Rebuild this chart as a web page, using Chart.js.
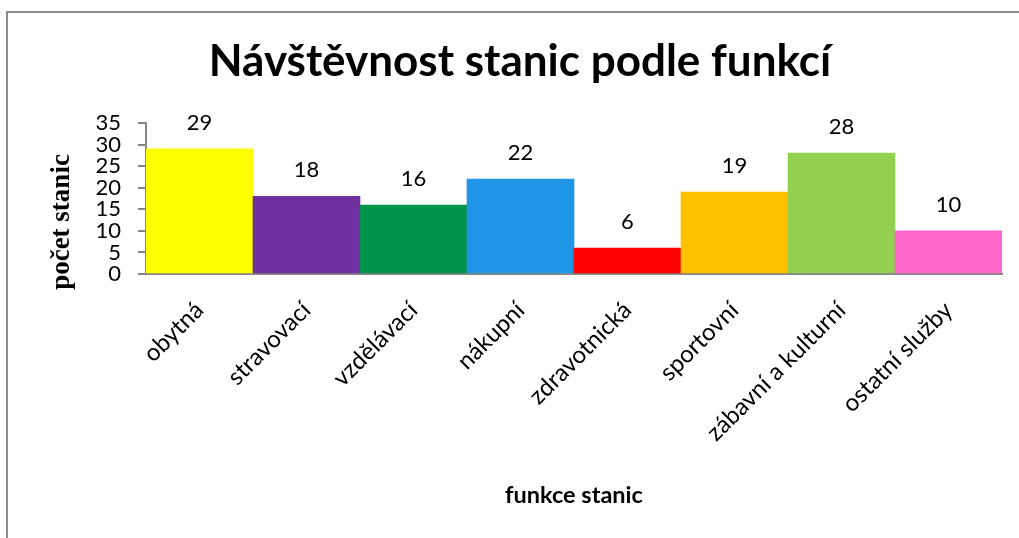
<!DOCTYPE html>
<html>
<head>
<meta charset="utf-8">
<script src="https://cdn.jsdelivr.net/npm/chart.js@4.4.1/dist/chart.umd.min.js"></script>
<style>
    html, body { margin: 0; padding: 0; background: #fff; overflow: hidden; }
    #chart { position: absolute; left: 0; top: 0; }
</style>
</head>
<body>
<canvas id="chart" width="1019" height="538"></canvas>
<script>
// data
const categories = ['obytná', 'stravovací', 'vzdělávací', 'nákupní', 'zdravotnická', 'sportovní', 'zábavní a kulturní', 'ostatní služby'];
const stationCounts = [29, 18, 16, 22, 6, 19, 28, 10];
const barColors = ['#ffff00', '#7030a0', '#00944a', '#1f96e6', '#ff0000', '#ffc000', '#92d050', '#ff66cc'];
const yMin = 0, yMax = 35, yStep = 5;

const chartTitle = 'Návštěvnost stanic podle funkcí';
const yTitle = 'počet stanic';
const xTitle = 'funkce stanic';

const FONT = 'Lato';
const axisGray = '#868686';

//outer frame (only left and top edges are in view) + chart title
const frameAndTitle = {
    id: 'frameAndTitle',
    beforeDraw(chart) {
        const ctx = chart.ctx;
        ctx.save();
        ctx.strokeStyle = '#8a8a8a';
        ctx.lineWidth = 2;
        ctx.beginPath();
        ctx.moveTo(7, chart.height);
        ctx.lineTo(7, 12);
        ctx.lineTo(chart.width, 12);
        ctx.stroke();

        ctx.font = 'bold 44px ' + FONT;
        ctx.fillStyle = '#000';
        ctx.textAlign = 'center';
        ctx.textBaseline = 'middle';
        ctx.fillText(chartTitle, 520, 62);
        ctx.restore();
    }
};

//value labels above each bar
const valueLabels = {
    id: 'valueLabels',
    afterDatasetsDraw(chart) {
        const ctx = chart.ctx;
        const meta = chart.getDatasetMeta(0);
        ctx.save();
        ctx.font = '22px ' + FONT;
        ctx.fillStyle = '#000';
        ctx.textAlign = 'center';
        ctx.textBaseline = 'middle';
        meta.data.forEach(function (bar, i) {
            ctx.fillText(String(stationCounts[i]), bar.x, bar.y - 26);
        });
        ctx.restore();
    }
};

//y title sits a bit lower than the axis middle in the original
const yAxisTitle = {
    id: 'yAxisTitle',
    afterDraw(chart) {
        const ctx = chart.ctx;
        ctx.save();
        ctx.translate(62, 222);
        ctx.rotate(-Math.PI / 2);
        ctx.font = 'bold 27px "Liberation Serif"';
        ctx.fillStyle = '#000';
        ctx.textAlign = 'center';
        ctx.textBaseline = 'middle';
        ctx.fillText(yTitle, 0, 0);
        ctx.restore();
    }
};

const chart = new Chart(document.getElementById('chart'), {
    type: 'bar',
    data: {
        labels: categories,
        datasets: [{
            data: stationCounts,
            backgroundColor: barColors,
            borderWidth: 0,
            categoryPercentage: 1,
            barPercentage: 1
        }]
    },
    options: {
        responsive: false,
        animation: false,
        devicePixelRatio: 1,
        layout: {
            padding: { left: 0, right: 17, top: 123, bottom: 0 }
        },
        plugins: {
            legend: { display: false },
            tooltip: { enabled: false },
            title: { display: false }
        },
        scales: {
            x: {
                grid: { display: false, drawTicks: false },
                border: { display: true, color: axisGray, width: 2 },
                ticks: {
                    color: '#000',
                    font: { family: FONT, size: 24 },
                    minRotation: 45,
                    maxRotation: 45,
                    autoSkip: false,
                    padding: 22
                },
                title: {
                    display: true,
                    text: xTitle,
                    color: '#000',
                    font: { family: FONT, size: 23.5, weight: 'bold' },
                    padding: { top: 0, bottom: 28 }
                },
                afterFit(scale) { scale.height = 264; }
            },
            y: {
                min: yMin,
                max: yMax,
                grid: {
                    drawOnChartArea: false,
                    drawTicks: true,
                    tickLength: 8,
                    color: axisGray,
                    lineWidth: 2
                },
                border: { display: true, color: axisGray, width: 2 },
                ticks: {
                    stepSize: yStep,
                    autoSkip: false,
                    color: '#000',
                    font: { family: FONT, size: 22, lineHeight: 1 },
                    padding: 17
                },
                afterFit(scale) { scale.width = 146; }
            }
        }
    },
    plugins: [frameAndTitle, valueLabels, yAxisTitle]
});
</script>
</body>
</html>
